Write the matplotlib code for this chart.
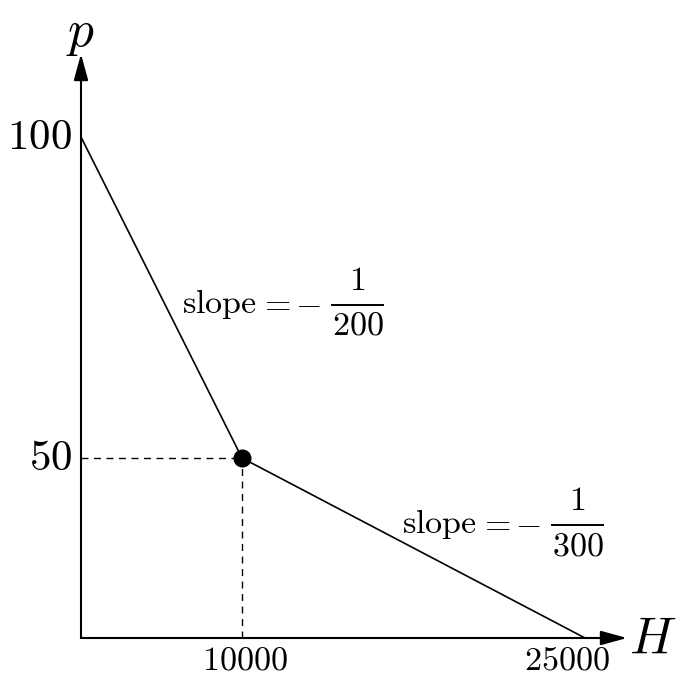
import numpy as np
import matplotlib
matplotlib.use("Agg")
import matplotlib.pyplot as plt
from matplotlib.scale import FuncScale
from matplotlib.lines import Line2D

plt.rcParams['mathtext.fontset'] = 'cm'
plt.rcParams['font.family'] = 'serif'
plt.rcParams['font.serif'] = ['DejaVu Serif']

# demand curve corners (H, p)
H_pts = [0, 10000, 25000]
p_pts = [100, 50, 0]
kink_H = 10000
kink_p = 50
x_ticks = [10000, 25000]
x_tick_labels = ["10000", "25000"]
y_ticks = [50, 100]
y_tick_labels = ["50", "100"]
slope_dens = ["200", "300"]

# the sketch is not drawn to scale: piecewise linear axes
x_knots, x_px = [0, 10000, 25000], [0, 161, 504]
y_knots, y_px = [0, 50, 100], [0, 180, 501]


def piecewise(knots, px):
    k = np.array(knots, float)
    q = np.array(px, float)
    s0 = (q[1] - q[0]) / (k[1] - k[0])
    s1 = (q[-1] - q[-2]) / (k[-1] - k[-2])
    big = 1e6
    ke = np.concatenate([[k[0] - big], k, [k[-1] + big]])
    qe = np.concatenate([[q[0] - big * s0], q, [q[-1] + big * s1]])
    fwd = lambda v: np.interp(v, ke, qe)
    inv = lambda v: np.interp(v, qe, ke)
    return fwd, inv


fx, ix = piecewise(x_knots, x_px)
fy, iy = piecewise(y_knots, y_px)

W, Hh = 677, 675
fig = plt.figure(figsize=(6.77, 6.75), dpi=100)


def fpos(x, y):
    return x / W, 1 - y / Hh


ox, oy = 81, 638
tipx, tipy = 627, 54
ax = fig.add_axes([ox / W, (Hh - oy) / Hh, (tipx - ox) / W, (oy - tipy) / Hh])
ax.set_xscale(FuncScale(ax.xaxis, (fx, ix)))
ax.set_yscale(FuncScale(ax.yaxis, (fy, iy)))
ax.set_xlim(0, float(ix(tipx - ox)))
ax.set_ylim(0, float(iy(oy - tipy)))
for s in ax.spines.values():
    s.set_visible(False)
ax.set_xticks([])
ax.set_yticks([])

# axes with arrows
arrow = dict(arrowstyle='-|>,head_length=0.8,head_width=0.22', color='black', lw=1.5,
             shrinkA=0, shrinkB=0, mutation_scale=20)
ax.annotate('', xy=(1, 0), xytext=(0, 0), xycoords='axes fraction', arrowprops=arrow)
ax.annotate('', xy=(0, 1), xytext=(0, 0), xycoords='axes fraction', arrowprops=arrow)
fig.text(*fpos(653, 640), '$H$', fontsize=37, ha='center', va='center')
fig.text(*fpos(81, 33), '$p$', fontsize=37, ha='center', va='center')

# curve
ax.plot(H_pts, p_pts, color='black', lw=1.2, clip_on=False)
ax.plot([0, kink_H], [kink_p, kink_p], color='black', lw=1.0, ls=(0, (5, 4)), clip_on=False)
ax.plot([kink_H, kink_H], [0, kink_p], color='black', lw=1.0, ls=(0, (5, 4)), clip_on=False)
ax.plot([kink_H], [kink_p], 'o', color='black', ms=12, clip_on=False, zorder=5)

# tick labels
for v, lab in zip(y_ticks, y_tick_labels):
    ax.annotate('$' + lab + '$', (0, v), xytext=(-6.5, 0), textcoords='offset points',
                fontsize=31, ha='right', va='center')
for v, lab, dx in zip(x_ticks, x_tick_labels, [2, -13]):
    ax.annotate('$' + lab + '$', (v, 0), xytext=(dx, -4.5), textcoords='offset points',
                fontsize=24.5, ha='center', va='top')


# slope labels: "slope = -1/den"
def slope_label(x0, base, den):
    fs = 24.5
    fig.text(*fpos(x0, base), r'$\mathrm{slope}$', fontsize=fs, ha='left', va='baseline')
    fig.text(*fpos(x0 + 93, base), '$=$', fontsize=fs, ha='center', va='baseline')
    fig.text(*fpos(x0 + 126, base), '${-}$', fontsize=fs, ha='center', va='baseline')
    bar_y = base - 8
    xa, xb = x0 + 150, x0 + 201
    fig.add_artist(Line2D([xa / W, xb / W], [1 - bar_y / Hh] * 2, color='black', lw=1.4))
    fig.text(*fpos((xa + xb) / 2, base - 23), '$1$', fontsize=fs, ha='center', va='baseline')
    fig.text(*fpos((xa + xb) / 2, base + 22), '$' + den + '$', fontsize=fs, ha='center', va='baseline')


slope_label(182, 313, slope_dens[0])
slope_label(402, 533, slope_dens[1])

fig.savefig('out.png', dpi=100)
